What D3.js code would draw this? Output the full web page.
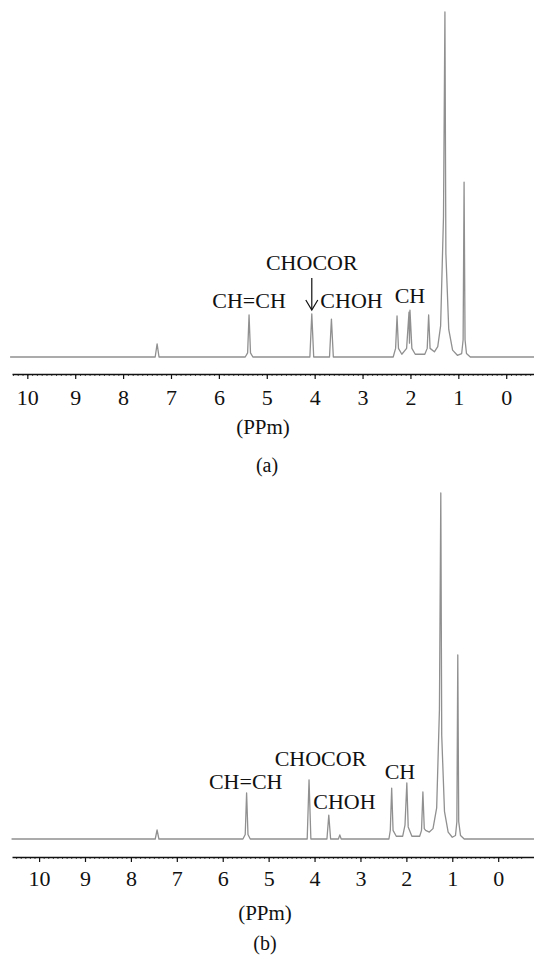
<!DOCTYPE html>
<html>
<head>
<meta charset="utf-8">
<script src="https://cdn.jsdelivr.net/npm/d3@7"></script>
<style>
  body { margin: 0; background: #fff; }
  svg { display: block; }
  text { font-family: "Liberation Serif", "DejaVu Serif", serif; fill: #111; }
</style>
</head>
<body>
<div id="chart"></div>
<script>
// spectrum (a): [ppm, relative intensity]
const spectrumA = [
  [10.36, 0],
  [7.33, 0], [7.29, 3.8], [7.25, 0],
  [5.45, 0], [5.40, 1.2], [5.37, 12.2], [5.34, 1.2], [5.29, 0],
  [4.10, 0], [4.06, 12.5], [4.02, 0],
  [3.69, 0], [3.65, 11.0], [3.61, 0],
  [2.36, 0], [2.31, 2.5], [2.28, 11.9], [2.25, 2.5], [2.18, 0.8],
  [2.08, 2.5], [2.03, 13.0], [2.02, 4], [2.01, 13.6], [1.97, 2.5], [1.90, 0.8],
  [1.70, 0.8], [1.65, 2.5], [1.62, 12.2], [1.59, 2.5], [1.50, 1.5],
  [1.43, 3], [1.37, 9], [1.31, 40.6], [1.28, 100], [1.26, 30], [1.20, 8], [1.12, 2],
  [1.02, 0.5], [0.93, 1], [0.90, 5], [0.88, 50.7], [0.86, 5], [0.83, 1], [0.75, 0],
  [-0.60, 0]
];

// spectrum (b)
const spectrumB = [
  [10.60, 0],
  [7.47, 0], [7.43, 2.6], [7.39, 0],
  [5.56, 0], [5.51, 1.3], [5.48, 13.3], [5.45, 1.3], [5.40, 0],
  [4.16, 0], [4.12, 17.1], [4.08, 0],
  [3.73, 0], [3.69, 6.9], [3.65, 0],
  [3.48, 0], [3.45, 1.2], [3.42, 0],
  [2.38, 0], [2.35, 2.5], [2.32, 14.7], [2.29, 2.5], [2.22, 0.8],
  [2.08, 0.8], [2.03, 4], [1.99, 16.2], [1.96, 3.5], [1.88, 0.8],
  [1.71, 0.8], [1.67, 2.5], [1.64, 13.6], [1.61, 3], [1.58, 2.5], [1.50, 2],
  [1.42, 3], [1.34, 9], [1.28, 37.3], [1.25, 100], [1.23, 30], [1.17, 8], [1.09, 2],
  [1.00, 0.5], [0.93, 1], [0.90, 5], [0.88, 53.2], [0.86, 5], [0.82, 1], [0.74, 0],
  [-0.80, 0]
];

// major tick labels
const majorTicks = [10, 9, 8, 7, 6, 5, 4, 3, 2, 1, 0];

// peak labels: text, ppm position of label centre
const labelsA = [
  {text: "CH=CH", ppm: 5.37, row: 2},
  {text: "CHOCOR", ppm: 4.06, row: 1},
  {text: "CHOH", ppm: 3.23, row: 2},
  {text: "CH", ppm: 2.01, row: 3}
];
const labelsB = [
  {text: "CH=CH", ppm: 5.50, row: 2},
  {text: "CHOCOR", ppm: 3.87, row: 1},
  {text: "CHOH", ppm: 3.35, row: 3},
  {text: "CH", ppm: 2.14, row: 4}
];

const W = 534, H = 959;

const svg = d3.select("#chart").append("svg")
  .attr("width", W).attr("height", H);

// panel layouts (pixel positions measured on the reference)
const panels = [
  {data: spectrumA, labels: labelsA, domain: [10.32, -0.58], base: 357, top: 12, axisY: 374, tickY: 31,
   labelRows: {1: 270, 2: 308, 3: 303}, unitY: 434, unitX: 263, caption: "(a)", capY: 472, capX: 267, arrow: true},
  {data: spectrumB, labels: labelsB, domain: [10.59, -0.78], base: 839, top: 493, axisY: 857, tickY: 29,
   labelRows: {1: 766, 2: 789, 3: 809, 4: 779}, unitY: 920, unitX: 265, caption: "(b)", capY: 950, capX: 265, arrow: false}
];

panels.forEach(p => {
  const x = d3.scaleLinear().domain(p.domain).range([12, W]);
  const y = d3.scaleLinear().domain([0, 100]).range([p.base, p.top]);

  const g = svg.append("g");

  // spectrum trace
  const line = d3.line().x(d => x(d[0])).y(d => y(d[1]));
  g.append("path")
    .datum(p.data)
    .attr("d", line)
    .attr("fill", "none")
    .attr("stroke", "#909090")
    .attr("stroke-width", 1.3)
    .attr("stroke-linejoin", "round");

  // minor ticks every 0.1 ppm
  const minor = d3.range(-5, 106).map(i => i / 10).filter(v => v <= p.domain[0] && v >= p.domain[1]);
  g.append("g")
    .attr("transform", "translate(0," + p.axisY + ")")
    .call(d3.axisBottom(x).tickValues(minor).tickSize(2).tickSizeOuter(0).tickFormat(""))
    .call(a => a.select(".domain").remove())
    .selectAll("line").attr("stroke", "#222").attr("stroke-width", 0.8);

  // major ticks and labels
  const ax = g.append("g")
    .attr("transform", "translate(0," + p.axisY + ")")
    .call(d3.axisBottom(x).tickValues(majorTicks).tickSize(5).tickSizeOuter(0).tickFormat(d3.format("d")));
  ax.select(".domain").attr("stroke", "#111").attr("stroke-width", 1.6);
  ax.selectAll(".tick line").attr("stroke", "#111").attr("stroke-width", 1.2);
  ax.selectAll(".tick text")
    .attr("y", p.tickY)
    .attr("dy", null)
    .attr("font-size", 22)
    .style("font-family", "'Liberation Serif', serif")
    .attr("fill", "#111");

  // peak labels
  g.selectAll("text.peak")
    .data(p.labels)
    .enter().append("text")
    .attr("class", "peak")
    .attr("x", d => x(d.ppm))
    .attr("y", d => p.labelRows[d.row])
    .attr("text-anchor", "middle")
    .attr("font-size", 22)
    .text(d => d.text);

  // arrow under CHOCOR in panel (a)
  if (p.arrow) {
    const ax0 = x(4.06);
    g.append("line")
      .attr("x1", ax0).attr("x2", ax0)
      .attr("y1", 278).attr("y2", 309)
      .attr("stroke", "#111").attr("stroke-width", 1.2);
    g.append("path")
      .attr("d", "M" + (ax0 - 6) + "," + 300 + "L" + ax0 + "," + 310 + "L" + (ax0 + 6) + "," + 300)
      .attr("fill", "none").attr("stroke", "#111").attr("stroke-width", 1.2);
  }

  // axis unit and caption
  g.append("text")
    .attr("x", p.unitX).attr("y", p.unitY)
    .attr("text-anchor", "middle").attr("font-size", 21)
    .text("(PPm)");
  g.append("text")
    .attr("x", p.capX).attr("y", p.capY)
    .attr("text-anchor", "middle").attr("font-size", 20)
    .text(p.caption);
});
</script>
</body>
</html>
